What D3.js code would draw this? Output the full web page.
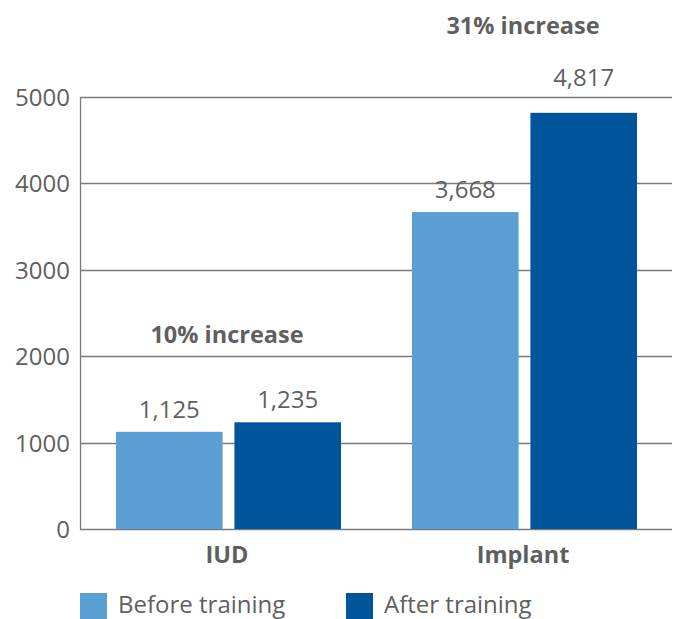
<html>
<head>
    <meta charset="utf-8">
    <title>IUD / Implant</title>
</head>
<style>
    body { margin: 0; background: #fff; }
    text { font-family: "Open Sans", "Noto Sans", sans-serif; fill: #5f5f5f; }
</style>
<body>
<svg width="678" height="619"></svg>
<script src="https://d3js.org/d3.v7.min.js" charset="utf-8"></script>
<script>
    var categories = ['IUD', 'Implant'];
    var series = ['Before training', 'After training'];
    var before = [1125, 3668];
    var after = [1235, 4817];
    var increases = ['10% increase', '31% increase'];
    var yTicks = [0, 1000, 2000, 3000, 4000, 5000];
    var colors = ['#5a9fd4', '#00559a'];

    var plotLeft = 80, plotRight = 672, plotTop = 97, plotBottom = 529;

    var x = d3.scaleBand().domain(categories).range([plotLeft, plotRight]);
    var inner = d3.scaleBand().domain(series).range([0, 225]).paddingInner(0.1);
    var y = d3.scaleLinear().domain([0, 5000]).range([plotBottom, plotTop]);

    var svg = d3.select('svg');

    // gridlines
    svg.append('g').selectAll('line')
        .data(yTicks)
        .enter().append('line')
        .attr('x1', plotLeft).attr('x2', plotRight)
        .attr('y1', function (d) { return Math.round(y(d)) + 0.5; })
        .attr('y2', function (d) { return Math.round(y(d)) + 0.5; })
        .attr('stroke', '#7a7a7a').attr('stroke-width', 1.3);

    svg.append('line')
        .attr('x1', plotLeft + 0.5).attr('x2', plotLeft + 0.5)
        .attr('y1', y(5000)).attr('y2', y(0))
        .attr('stroke', '#7a7a7a').attr('stroke-width', 1.3);

    svg.append('g').selectAll('text')
        .data(yTicks)
        .enter().append('text')
        .attr('x', 70)
        .attr('y', function (d) { return y(d) + 9; })
        .attr('text-anchor', 'end')
        .attr('font-size', '24px')
        .text(function (d) { return d; });

    var rows = categories.map(function (c, i) {
        return [{cat: c, s: series[0], v: before[i]}, {cat: c, s: series[1], v: after[i]}];
    });

    var groups = svg.append('g').selectAll('g')
        .data(rows)
        .enter().append('g')
        .attr('transform', function (d) { return 'translate(' + (x(d[0].cat) + 36) + ',0)'; });

    groups.selectAll('rect')
        .data(function (d) { return d; })
        .enter().append('rect')
        .attr('x', function (d) { return inner(d.s); })
        .attr('width', inner.bandwidth())
        .attr('y', function (d) { return y(d.v); })
        .attr('height', function (d) { return y(0) - y(d.v); })
        .attr('fill', function (d, i) { return colors[i]; });

    // value labels, pushed above the top gridline when they'd sit on it
    groups.selectAll('text.val')
        .data(function (d) { return d; })
        .enter().append('text')
        .attr('class', 'val')
        .attr('x', function (d) { return inner(d.s) + inner.bandwidth() / 2; })
        .attr('y', function (d) {
            var ly = y(d.v) - 14;
            return ly < y(5000) + 20 ? y(5000) - 11 : ly;
        })
        .attr('text-anchor', 'middle')
        .attr('font-size', '24px')
        .text(function (d) { return d3.format(',')(d.v); });

    // increase notes
    svg.append('g').selectAll('text')
        .data(categories)
        .enter().append('text')
        .attr('x', function (d) { return x(d) + x.bandwidth() / 2 - 1; })
        .attr('y', function (d, i) { return Math.min(y(before[i]), y(after[i])) - 79; })
        .attr('text-anchor', 'middle')
        .attr('font-size', '23.5px')
        .attr('font-weight', 'bold')
        .text(function (d, i) { return increases[i]; });

    // category labels
    svg.append('g').selectAll('text')
        .data(categories)
        .enter().append('text')
        .attr('x', function (d) { return x(d) + x.bandwidth() / 2 - 1; })
        .attr('y', 563)
        .attr('text-anchor', 'middle')
        .attr('font-size', '23.5px')
        .attr('font-weight', 'bold')
        .text(function (d) { return d; });

    // legend
    var legend = svg.append('g').selectAll('g')
        .data(series)
        .enter().append('g')
        .attr('transform', function (d, i) { return 'translate(' + (80 + i * 266) + ',593)'; });
    legend.append('rect')
        .attr('width', 27).attr('height', 27)
        .attr('fill', function (d, i) { return colors[i]; });
    legend.append('text')
        .attr('x', 38).attr('y', 20)
        .attr('font-size', '24px')
        .text(function (d) { return d; });
</script>
</body>
</html>
